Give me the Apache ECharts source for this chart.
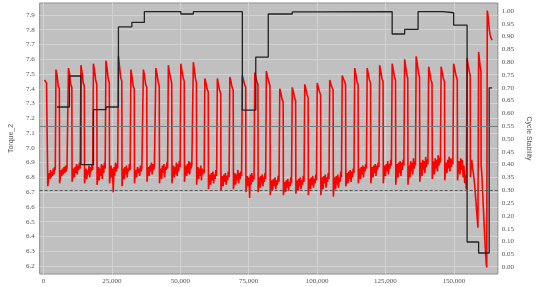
<!DOCTYPE html>
<html><head><meta charset="utf-8">
<script src="https://cdn.jsdelivr.net/npm/echarts@6/dist/echarts.min.js"></script>
<style>html,body{margin:0;padding:0;background:#fff}#c{width:540px;height:287px}</style>
</head><body><div id="c"></div>
<script>
// ---- tick labels ----
const xTicks = [0, 25000, 50000, 75000, 100000, 125000, 150000];
const leftTicks = [6.2, 6.3, 6.4, 6.5, 6.6, 6.7, 6.8, 6.9, 7.0, 7.1, 7.2, 7.3, 7.4, 7.5, 7.6, 7.7, 7.8, 7.9];
const rightTicks = [0, 0.05, 0.1, 0.15, 0.2, 0.25, 0.3, 0.35, 0.4, 0.45, 0.5, 0.55, 0.6, 0.65, 0.7, 0.75, 0.8, 0.85, 0.9, 0.95, 1.0];

// ---- Torque_2: cycle start positions and sampled values within each cycle ----
const cycleStart = [350, 4560, 9130, 13690, 18260, 22820, 27390, 31950, 36510, 41080, 45640, 50210, 54770,
  58980, 63550, 68110, 72680, 77240, 81460, 86370, 90930, 95500, 100060, 104630, 109190, 113760, 118320,
  122890, 127450, 132010, 136220, 140790, 145350, 149920, 154840, 159050, 162210];
const cycleEnd = 163970;
const torqueCycles = [
  [7.46, 7.45, 7.44, 7.43, 6.74, 6.78, 6.83, 6.79, 6.85, 6.80, 6.84, 6.81, 6.86, 6.82, 6.87, 6.85],
  [7.53, 7.49, 7.42, 7.40, 6.76, 6.80, 6.85, 6.81, 6.86, 6.82, 6.87, 6.83, 6.88, 6.84, 6.87, 6.86],
  [7.54, 7.50, 7.43, 7.41, 6.77, 6.82, 6.86, 6.80, 6.87, 6.83, 6.89, 6.82, 6.88, 6.85, 6.90, 6.86],
  [7.56, 7.51, 7.44, 7.42, 6.76, 6.81, 6.86, 6.79, 6.85, 6.82, 6.88, 6.80, 6.87, 6.84, 6.89, 6.85],
  [7.57, 7.52, 7.46, 7.43, 6.75, 6.80, 6.87, 6.78, 6.86, 6.81, 6.89, 6.79, 6.88, 6.83, 6.90, 6.86],
  [7.59, 7.54, 7.47, 7.44, 6.76, 6.82, 6.88, 6.80, 6.86, 6.70, 6.87, 6.81, 6.90, 6.84, 6.89, 6.86],
  [7.62, 7.55, 7.48, 7.45, 6.74, 6.81, 6.86, 6.79, 6.87, 6.82, 6.88, 6.80, 6.86, 6.84, 6.89, 6.85],
  [7.53, 7.48, 7.42, 7.40, 6.76, 6.82, 6.85, 6.80, 6.87, 6.83, 6.86, 6.81, 6.88, 6.84, 6.87, 6.86],
  [7.53, 7.49, 7.43, 7.41, 6.77, 6.83, 6.87, 6.81, 6.88, 6.84, 6.90, 6.82, 6.89, 6.85, 6.88, 6.87],
  [7.54, 7.50, 7.45, 7.42, 6.76, 6.82, 6.86, 6.79, 6.88, 6.83, 6.89, 6.80, 6.87, 6.85, 6.90, 6.86],
  [7.56, 7.51, 7.47, 7.44, 6.76, 6.83, 6.88, 6.80, 6.87, 6.82, 6.90, 6.81, 6.89, 6.84, 6.91, 6.87],
  [7.57, 7.52, 7.48, 7.45, 6.77, 6.84, 6.88, 6.81, 6.89, 6.83, 6.91, 6.82, 6.90, 6.86, 6.89, 6.88],
  [7.58, 7.53, 7.47, 7.44, 6.75, 6.82, 6.87, 6.79, 6.86, 6.81, 6.88, 6.78, 6.86, 6.82, 6.85, 6.83],
  [7.47, 7.44, 7.40, 7.38, 6.72, 6.77, 6.82, 6.75, 6.83, 6.78, 6.84, 6.76, 6.82, 6.79, 6.85, 6.81],
  [7.47, 7.43, 7.39, 7.37, 6.71, 6.76, 6.81, 6.74, 6.82, 6.77, 6.83, 6.75, 6.81, 6.78, 6.84, 6.80],
  [7.48, 7.45, 7.41, 7.39, 6.72, 6.77, 6.83, 6.75, 6.82, 6.78, 6.85, 6.76, 6.83, 6.79, 6.84, 6.81],
  [7.49, 7.46, 7.43, 7.41, 6.70, 6.76, 6.81, 6.74, 6.80, 6.66, 6.82, 6.75, 6.83, 6.77, 6.81, 6.79],
  [7.51, 7.48, 7.45, 7.43, 6.70, 6.75, 6.80, 6.73, 6.81, 6.76, 6.82, 6.74, 6.80, 6.77, 6.83, 6.79],
  [7.52, 7.48, 7.45, 7.42, 6.68, 6.73, 6.78, 6.71, 6.79, 6.74, 6.80, 6.72, 6.78, 6.75, 6.81, 6.77],
  [7.40, 7.37, 7.33, 7.31, 6.68, 6.72, 6.77, 6.70, 6.78, 6.73, 6.79, 6.71, 6.77, 6.74, 6.80, 6.76],
  [7.41, 7.38, 7.34, 7.32, 6.69, 6.73, 6.78, 6.71, 6.79, 6.74, 6.80, 6.72, 6.78, 6.75, 6.81, 6.77],
  [7.43, 7.40, 7.36, 7.34, 6.68, 6.74, 6.79, 6.72, 6.80, 6.75, 6.81, 6.73, 6.79, 6.76, 6.82, 6.78],
  [7.44, 7.41, 7.38, 7.36, 6.68, 6.74, 6.80, 6.72, 6.81, 6.76, 6.82, 6.73, 6.80, 6.77, 6.83, 6.79],
  [7.46, 7.43, 7.41, 7.39, 6.67, 6.74, 6.80, 6.72, 6.81, 6.75, 6.82, 6.73, 6.80, 6.77, 6.84, 6.80],
  [7.49, 7.48, 7.45, 7.43, 6.74, 6.78, 6.83, 6.76, 6.84, 6.79, 6.85, 6.77, 6.84, 6.80, 6.86, 6.83],
  [7.54, 7.50, 7.45, 7.43, 6.76, 6.81, 6.86, 6.79, 6.87, 6.82, 6.88, 6.80, 6.87, 6.84, 6.89, 6.86],
  [7.54, 7.50, 7.46, 7.44, 6.76, 6.82, 6.87, 6.80, 6.88, 6.83, 6.89, 6.81, 6.88, 6.85, 6.90, 6.87],
  [7.56, 7.52, 7.47, 7.45, 6.76, 6.83, 6.88, 6.81, 6.89, 6.84, 6.91, 6.82, 6.89, 6.86, 6.92, 6.88],
  [7.57, 7.53, 7.48, 7.46, 6.75, 6.82, 6.89, 6.80, 6.90, 6.83, 6.91, 6.81, 6.90, 6.85, 6.92, 6.88],
  [7.60, 7.55, 7.50, 7.47, 6.75, 6.83, 6.88, 6.80, 6.91, 6.84, 6.90, 6.82, 6.93, 6.86, 6.91, 6.88],
  [7.62, 7.57, 7.51, 7.48, 6.77, 6.84, 6.90, 6.81, 6.92, 6.85, 6.91, 6.83, 6.94, 6.87, 6.92, 6.89],
  [7.55, 7.51, 7.46, 7.44, 6.79, 6.85, 6.91, 6.82, 6.93, 6.86, 6.92, 6.84, 6.95, 6.88, 6.93, 6.90],
  [7.55, 7.51, 7.47, 7.45, 6.78, 6.85, 6.90, 6.83, 6.92, 6.86, 6.94, 6.84, 6.93, 6.87, 6.92, 6.89],
  [7.57, 7.53, 7.49, 7.46, 6.78, 6.86, 6.91, 6.82, 6.93, 6.85, 6.92, 6.80, 6.88, 6.76, 6.82, 6.72],
  [7.61, 7.56, 7.52, 7.49, 6.80, 6.88, 6.92, 6.86, 6.84, 6.80, 6.76, 6.70, 6.64, 6.58, 6.52, 6.46],
  [7.65, 7.60, 7.55, 7.52, 6.88, 6.84, 6.78, 6.70, 6.62, 6.55, 6.47, 6.40, 6.33, 6.27, 6.22, 6.19],
  [7.93, 7.90, 7.85, 7.80, 7.77, 7.75, 7.74, 7.73]
];

// ---- Cycle Stability (step line) ----
const stabX = [4910, 9480, 13690, 18260, 22820, 27390, 32300, 36870, 50210, 54770, 72680, 77590, 82160,
  90930, 100060, 127450, 132010, 136920, 146050, 149920, 154840, 159050, 162910, 163970];
const stabVal = [0.625, 0.746, 0.40, 0.615, 0.625, 0.9375, 0.955, 0.997, 0.988, 0.997, 0.613, 0.82, 0.988,
  0.996, 0.997, 0.91, 0.928, 0.997, 0.993, 0.945, 0.098, 0.055, 0.70, 0.70];
const stabRefSolid = 0.55;
const stabRefDashed = 0.30;

// ---- build series data (sample positions within each cycle) ----
const torqueData = [];
torqueCycles.forEach((vals, i) => {
  const s = cycleStart[i];
  const e = i + 1 < cycleStart.length ? cycleStart[i + 1] : cycleEnd;
  const len = e - s;
  if (vals.length === 16) {
    // high phase (4 samples) occupies first ~27% of the cycle, low phase the rest
    vals.forEach((v, j) => {
      const f = j < 4 ? j * 0.09 : 0.29 + (j - 4) * (0.71 / 12);
      torqueData.push([s + f * len, v]);
    });
  } else {
    const step = len / (vals.length - 1);
    vals.forEach((v, j) => torqueData.push([s + j * step, v]));
  }
});
const stabData = stabX.map((x, i) => [x, stabVal[i]]);

const FONT = 'Liberation Serif';
const labelStyle = { fontFamily: FONT, fontSize: 7, color: '#555' };

const chart = echarts.init(document.getElementById('c'), null, { renderer: 'canvas' });
chart.setOption({
  animation: false,
  backgroundColor: '#ffffff',
  grid: { left: 32, right: 31, top: 3, bottom: 13, show: true, backgroundColor: '#c0c0c0', borderColor: '#8c8c8c', borderWidth: 1 },
  xAxis: {
    type: 'value', min: -1404, max: 166080,
    axisLine: { show: false }, axisTick: { show: false, customValues: xTicks },
    axisLabel: Object.assign({ customValues: xTicks, margin: 4,
      formatter: v => v === 0 ? '0' : v.toLocaleString('en-US') }, labelStyle),
    splitLine: { show: true, lineStyle: { color: '#d2d2d2', width: 1 } }
  },
  yAxis: [
    {
      type: 'value', min: 6.146, max: 7.981, position: 'left',
      name: 'Torque_2', nameLocation: 'middle', nameGap: 19, nameRotate: 90,
      nameTextStyle: { fontFamily: 'Liberation Sans', fontSize: 7, color: '#555' },
      axisLine: { show: false }, axisTick: { show: false, customValues: leftTicks },
      axisLabel: Object.assign({ customValues: leftTicks, margin: 5, formatter: v => v.toFixed(1) }, labelStyle),
      splitLine: { show: true, lineStyle: { color: '#d2d2d2', width: 1 } }
    },
    {
      type: 'value', min: -0.027, max: 1.031, position: 'right',
      name: 'Cycle Stability', nameLocation: 'middle', nameGap: 21, nameRotate: -90,
      nameTextStyle: { fontFamily: 'Liberation Sans', fontSize: 7, color: '#555' },
      axisLine: { show: false }, axisTick: { show: false, customValues: rightTicks },
      axisLabel: Object.assign({ customValues: rightTicks, margin: 4, formatter: v => v.toFixed(2) }, labelStyle),
      splitLine: { show: false }
    }
  ],
  series: [
    {
      name: 'Torque_2', type: 'line', yAxisIndex: 0, data: torqueData, showSymbol: false,
      lineStyle: { color: '#ff0000', width: 1.6 }, z: 2
    },
    {
      name: 'Cycle Stability', type: 'line', yAxisIndex: 1, data: stabData, step: 'end', showSymbol: false,
      lineStyle: { color: '#222222', width: 1.3 }, z: 3,
      markLine: {
        silent: true, symbol: 'none', label: { show: false },
        data: [
          { yAxis: stabRefSolid, lineStyle: { color: '#7a7a7a', width: 1, type: 'solid' } },
          { yAxis: stabRefDashed, lineStyle: { color: '#555555', width: 1, type: [3, 2] } }
        ]
      }
    }
  ]
});
</script></body></html>
